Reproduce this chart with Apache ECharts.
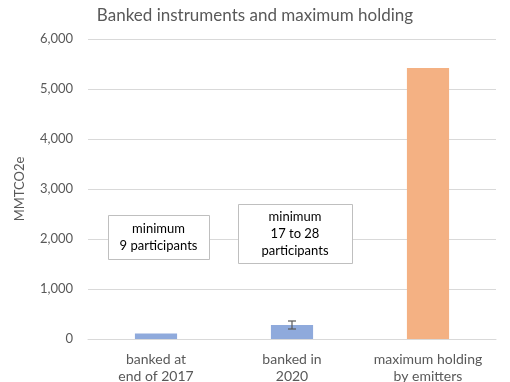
<!DOCTYPE html>
<html><head><meta charset="utf-8">
<script src="https://cdn.jsdelivr.net/npm/echarts@6/dist/echarts.min.js"></script>
<style>html,body{margin:0;padding:0;background:#fff}#c{width:510px;height:382px}</style>
</head><body><div id="c"></div>
<script>
const categories = ['banked at\nend of 2017', 'banked in\n2020', 'maximum holding\nby emitters'];
const values = [110, 280, 5420];
const errLow = [null, 200, null];
const errHigh = [null, 360, null];
const yTicks = {min: 0, max: 6000, interval: 1000};
const notes = ['minimum\n9 participants', 'minimum\n17 to 28\nparticipants'];
const colors = ['#8faadc', '#8faadc', '#f4b183'];
const FONT = 'Lato';

const chart = echarts.init(document.getElementById('c'));
chart.setOption({
  animation: false,
  textStyle: {fontFamily: FONT},
  title: {text: 'Banked instruments and maximum holding', left: 'center', top: 2,
    textStyle: {fontFamily: FONT, fontSize: 17, fontWeight: 'normal', color: '#595959'}},
  grid: {left: 88, right: 14, top: 39, bottom: 43, outerBoundsMode: 'none', containLabel: false},
  xAxis: {type: 'category', data: categories,
    axisLine: {lineStyle: {color: '#d9d9d9'}}, axisTick: {show: false},
    axisLabel: {interval: 0, hideOverlap: false, color: '#595959', fontSize: 14, lineHeight: 17, margin: 12, fontFamily: FONT}},
  yAxis: {type: 'value', min: yTicks.min, max: yTicks.max, interval: yTicks.interval,
    name: 'MMTCO2e', nameLocation: 'middle', nameGap: 62, nameRotate: 90,
    nameTextStyle: {color: '#595959', fontSize: 13, fontFamily: FONT},
    axisLabel: {color: '#595959', fontSize: 13, margin: 15, fontFamily: FONT,
      formatter: v => v.toLocaleString('en-US')},
    splitLine: {lineStyle: {color: '#d9d9d9'}}, axisLine: {show: false}, axisTick: {show: false}},
  series: [
    {type: 'bar', barWidth: '31%',
      data: values.map((v, i) => ({value: v, itemStyle: {color: colors[i]}}))},
    {type: 'custom', z: 10,
      data: errLow.map((l, i) => [i, l, errHigh[i]]).filter(d => d[1] != null),
      renderItem: (params, api) => {
        const lo = api.coord([api.value(0), api.value(1)]);
        const hi = api.coord([api.value(0), api.value(2)]);
        const w = 4;
        const st = {stroke: '#595959', lineWidth: 1.2};
        return {type: 'group', children: [
          {type: 'line', shape: {x1: lo[0], y1: lo[1], x2: hi[0], y2: hi[1]}, style: st},
          {type: 'line', shape: {x1: lo[0]-w, y1: lo[1], x2: lo[0]+w, y2: lo[1]}, style: st},
          {type: 'line', shape: {x1: hi[0]-w, y1: hi[1], x2: hi[0]+w, y2: hi[1]}, style: st}
        ]};
      }}
  ],
  graphic: [
    {type: 'rect', left: 108, top: 215, shape: {width: 101, height: 44},
      style: {fill: '#fff', stroke: '#bfbfbf', lineWidth: 1}, z: 20},
    {type: 'text', position: [158.5, 237], z: 21,
      style: {text: notes[0], fill: '#000', font: '13px ' + FONT, align: 'center', verticalAlign: 'middle', lineHeight: 17}},
    {type: 'rect', left: 238, top: 204, shape: {width: 114, height: 59},
      style: {fill: '#fff', stroke: '#bfbfbf', lineWidth: 1}, z: 20},
    {type: 'text', position: [295, 233.5], z: 21,
      style: {text: notes[1], fill: '#000', font: '13px ' + FONT, align: 'center', verticalAlign: 'middle', lineHeight: 17}}
  ]
});
</script></body></html>
